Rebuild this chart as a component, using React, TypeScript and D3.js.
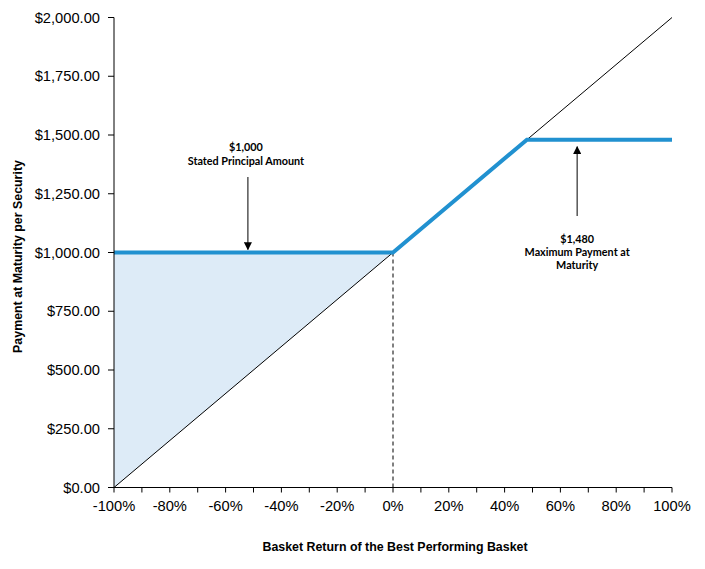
import React from "react";
import * as d3 from "d3";

const xTickValues = [-100, -80, -60, -40, -20, 0, 20, 40, 60, 80, 100];
const xMinorTicks = [-100, -90, -80, -70, -60, -50, -40, -30, -20, -10, 0, 10, 20, 30, 40, 50, 60, 70, 80, 90, 100];
const yTickValues = [0, 250, 500, 750, 1000, 1250, 1500, 1750, 2000];
const payoffReturns = [-100, 0, 48, 100];
const payoffValues = [1000, 1000, 1480, 1480];
const diagonalReturns = [-100, 100];
const diagonalValues = [0, 2000];
const fillReturns = [-100, 0];
const fillLowerValues = [0, 1000];
const principal = 1000;
const maxPayment = 1480;

const W = 705, H = 569;
const left = 114, right = 672, top = 17.5, bottom = 487.5;

export default function App() {
  const x = d3.scaleLinear().domain([-100, 100]).range([left, right]);
  const y = d3.scaleLinear().domain([0, 2000]).range([bottom, top]);
  const line = d3.line<[number, number]>().x(d => x(d[0])).y(d => y(d[1]));
  const payoff = payoffReturns.map((r, i) => [r, payoffValues[i]] as [number, number]);
  const diag = diagonalReturns.map((r, i) => [r, diagonalValues[i]] as [number, number]);
  const fillPts = fillReturns.map((r, i) => [r, fillLowerValues[i]] as [number, number]);
  const area = d3.area<[number, number]>()
    .x(d => x(d[0]))
    .y0(d => y(d[1]))
    .y1(() => y(principal));
  const fmtY = (v: number) => "$" + d3.format(",.2f")(v);
  const tickFont = "Liberation Sans, Arial, sans-serif";
  const annFont = "Lato, sans-serif";
  const annSize = 10.8;
  const arrow1x = x(-52);
  const arrow2x = x(66);
  return (
    <svg width={W} height={H} style={{ position: "absolute", left: 0, top: 0, background: "#fff" }}>
      <defs>
        <marker id="ah" viewBox="0 0 10 10" refX="9" refY="5" markerWidth="8" markerHeight="8" orient="auto-start-reverse" markerUnits="userSpaceOnUse">
          <path d="M0,0 L10,5 L0,10 z" fill="#000" />
        </marker>
      </defs>
      <rect width={W} height={H} fill="#fff" />
      <path d={area(fillPts) || ""} fill="#DDEBF7" />
      <path d={line(diag) || ""} fill="none" stroke="#000" strokeWidth={1} />
      <line x1={x(0)} x2={x(0)} y1={y(principal)} y2={bottom} stroke="#000" strokeWidth={1} strokeDasharray="4,3" />
      <path d={line(payoff) || ""} fill="none" stroke="#2191D0" strokeWidth={4} />
      <line x1={left} x2={left} y1={top} y2={bottom} stroke="#000" />
      <line x1={left} x2={right} y1={bottom} y2={bottom} stroke="#000" />
      {yTickValues.map(v => (
        <g key={"y" + v}>
          <line x1={left - 6} x2={left} y1={y(v)} y2={y(v)} stroke="#000" />
          <text x={left - 14} y={y(v)} dy="0.35em" textAnchor="end" fontFamily={tickFont} fontSize={14.7} fill="#000">{fmtY(v)}</text>
        </g>
      ))}
      {xMinorTicks.map(v => (
        <line key={"xm" + v} x1={x(v)} x2={x(v)} y1={bottom} y2={bottom + 5} stroke="#000" />
      ))}
      {xTickValues.map(v => (
        <text key={"x" + v} x={x(v)} y={bottom + 23} textAnchor="middle" fontFamily={tickFont} fontSize={14.7} fill="#000">{v + "%"}</text>
      ))}
      <text x={395} y={551} textAnchor="middle" fontFamily={tickFont} fontWeight="bold" fontSize={12.4} fill="#000">Basket Return of the Best Performing Basket</text>
      <text transform={`translate(22,${y(principal) + 4}) rotate(-90)`} textAnchor="middle" fontFamily={tickFont} fontWeight="bold" fontSize={12.4} fill="#000">Payment at Maturity per Security</text>
      <text x={arrow1x - 2} y={151} textAnchor="middle" fontFamily={annFont} fontWeight="bold" fontSize={annSize} fill="#000">$1,000</text>
      <text x={arrow1x - 2} y={165} textAnchor="middle" fontFamily={annFont} fontWeight="bold" fontSize={annSize} fill="#000">Stated Principal Amount</text>
      <line x1={arrow1x} x2={arrow1x} y1={177} y2={y(principal) - 3} stroke="#000" strokeWidth={1} markerEnd="url(#ah)" />
      <line x1={arrow2x} x2={arrow2x} y1={216} y2={y(maxPayment) + 7} stroke="#000" strokeWidth={1} markerEnd="url(#ah)" />
      <text x={arrow2x} y={243} textAnchor="middle" fontFamily={annFont} fontWeight="bold" fontSize={annSize} fill="#000">$1,480</text>
      <text x={arrow2x} y={256} textAnchor="middle" fontFamily={annFont} fontWeight="bold" fontSize={annSize} fill="#000">Maximum Payment at</text>
      <text x={arrow2x} y={269} textAnchor="middle" fontFamily={annFont} fontWeight="bold" fontSize={annSize} fill="#000">Maturity</text>
    </svg>
  );
}
